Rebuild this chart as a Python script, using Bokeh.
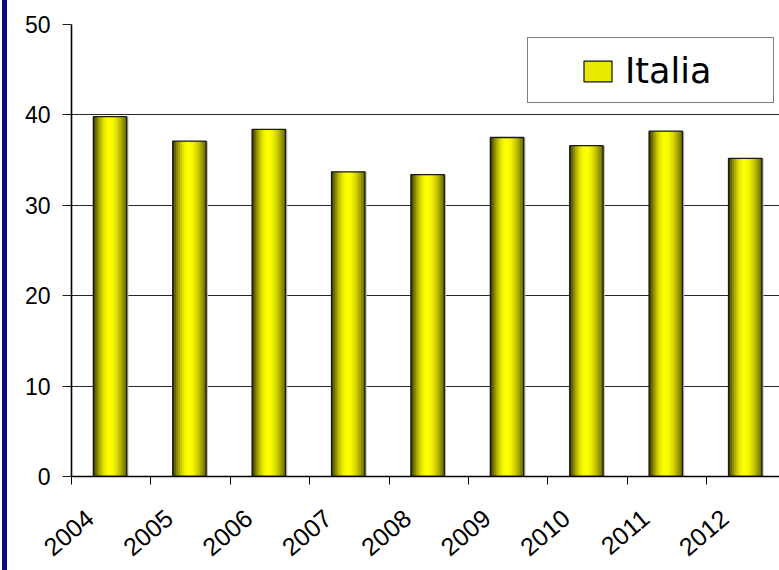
import math
from bokeh.plotting import figure
from bokeh.models import Range1d, FixedTicker, Legend, LegendItem, LinearAxis, Div
from bokeh.layouts import row
from bokeh.embed import file_html
from bokeh.resources import INLINE

# ---- data ----
years = ["2004", "2005", "2006", "2007", "2008", "2009", "2010", "2011", "2012"]
values = [39.8, 37.1, 38.4, 33.7, 33.4, 37.5, 36.6, 38.2, 35.2]
y_ticks = [0, 10, 20, 30, 40, 50]
series_name = "Italia"

# ---- style ----
BAR_OFFSET = 0.485   # bars sit between category ticks
BAR_W = 0.42
LABEL_SHIFT = 0.23   # rotated year labels sit a little right of their ticks
N_STRIPS = 18
FONT = "Liberation Sans"
STRIP_W = 7

idx = list(range(len(years)))
xs = [i + BAR_OFFSET for i in idx]

p = figure(width=779 - STRIP_W, height=570, output_backend="svg",
           toolbar_location=None,
           x_range=Range1d(0, 8.917), y_range=Range1d(0, 50),
           min_border_left=71 - STRIP_W, min_border_right=0, min_border_top=24,
           min_border_bottom=94)
p.outline_line_color = None
p.background_fill_color = "white"
p.border_fill_color = "white"

# shadow on right of bars
p.vbar(x=[x + 0.022 for x in xs], top=values, bottom=0, width=BAR_W,
       fill_color="#b8b8b8", line_color=None)


def shade(t):
    t0 = 0.48
    if t <= t0:
        lo, u = 0.18, t / t0
    else:
        lo, u = 0.40, (1 - t) / (1 - t0)
    b = lo + (1 - lo) * math.sin(math.pi / 2 * u)
    v = int(round(255 * b))
    return "#%02x%02x00" % (v, v)


sw = BAR_W / N_STRIPS
for k in range(N_STRIPS):
    t = (k + 0.5) / N_STRIPS
    off = (t - 0.5) * BAR_W
    p.vbar(x=[x + off for x in xs], top=values, bottom=0, width=sw * 1.25,
           fill_color=shade(t), line_color=None)

p.vbar(x=xs, top=values, bottom=0, width=BAR_W, fill_color=None,
       line_color="#1a1a1a", line_width=1.3)

# legend renderers (zero-size, not visible in the plot)
swatch = p.vbar(x=[0], top=[0], bottom=0, width=0, fill_color="#e8e800",
                line_color="#111111", line_width=1.2)
dummy = p.vbar(x=[0], top=[0], bottom=0, width=0, fill_alpha=0, line_alpha=0)

# grid / y axis
p.xgrid.visible = False
p.ygrid.grid_line_color = "#282828"
p.ygrid.grid_line_width = 1.2

p.yaxis.ticker = FixedTicker(ticks=y_ticks)
p.yaxis.minor_tick_line_color = None
p.yaxis.major_tick_in = 0
p.yaxis.major_tick_out = 9
p.yaxis.major_tick_line_color = "#202020"
p.yaxis.axis_line_color = "black"
p.yaxis.axis_line_width = 1.6
p.yaxis.major_label_text_font = FONT
p.yaxis.major_label_text_font_size = "23px"
p.yaxis.major_label_text_color = "black"
p.yaxis.major_label_standoff = 12

# x axis: line + ticks at category boundaries, no labels
xa = p.xaxis[0]
xa.ticker = FixedTicker(ticks=idx)
xa.major_label_overrides = {i: "" for i in idx}
xa.major_label_standoff = 0
xa.minor_tick_line_color = None
xa.major_tick_in = 0
xa.major_tick_out = 8
xa.major_tick_line_color = "black"
xa.axis_line_color = "black"
xa.axis_line_width = 1.4

# second x axis: only the rotated year labels
label_ticks = [i + LABEL_SHIFT for i in idx]
xl = LinearAxis(ticker=FixedTicker(ticks=label_ticks),
                major_label_overrides={t: y for t, y in zip(label_ticks, years)},
                axis_line_color=None, major_tick_line_color=None,
                minor_tick_line_color=None, major_tick_in=0, major_tick_out=0,
                major_label_orientation=0.7, major_label_standoff=30,
                major_label_text_font=FONT, major_label_text_font_size="25px",
                major_label_text_color="black")
p.add_layout(xl, "below")

# legend box
legA = Legend(items=[LegendItem(label=" ", renderers=[dummy])],
              location=(456, 373), padding=0, spacing=0, margin=0,
              glyph_width=10, glyph_height=64, label_standoff=0,
              label_width=235, label_height=64,
              border_line_color="black", border_line_width=1.2,
              background_fill_color="white", background_fill_alpha=1,
              label_text_font_size="10px")
legB = Legend(items=[LegendItem(label=series_name, renderers=[swatch])],
              location=(509, 385), padding=0, spacing=0, margin=0,
              glyph_width=35, glyph_height=26, label_standoff=10,
              border_line_color=None, background_fill_alpha=0,
              label_text_font="DejaVu Sans", label_text_font_size="35px",
              label_text_color="black")
p.add_layout(legA)
p.add_layout(legB)

# left decorative strip
strip = Div(text="", width=STRIP_W, height=570, margin=0,
            styles={"background": "linear-gradient(to right, #ffffff 0px, #ffffff 2px, #0a0a78 2px, #0a0a78 100%)"})

layout = row(strip, p, spacing=0)
open("out.html", "w").write(file_html(layout, INLINE))
